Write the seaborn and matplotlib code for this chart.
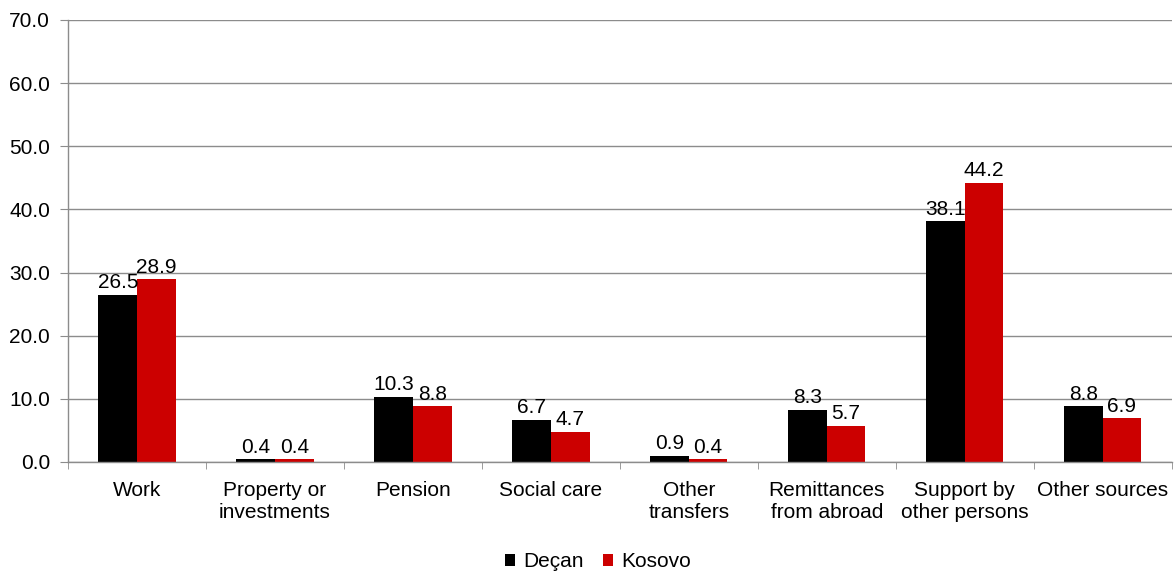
import pandas as pd
import matplotlib.pyplot as plt
import seaborn as sns
import numpy as np

categories = ["Work", "Property or\ninvestments", "Pension", "Social care",
              "Other\ntransfers", "Remittances\nfrom abroad", "Support by\nother persons",
              "Other sources"]
decan = [26.5, 0.4, 10.3, 6.7, 0.9, 8.3, 38.1, 8.8]
kosovo = [28.9, 0.4, 8.8, 4.7, 0.4, 5.7, 44.2, 6.9]
series = ["Deçan", "Kosovo"]
colors = ["#000000", "#CC0000"]

df = pd.DataFrame({
    "cat": categories * 2,
    "val": decan + kosovo,
    "series": [series[0]] * len(categories) + [series[1]] * len(categories),
})

sns.set_style("white")
plt.rcParams['font.family'] = ['Liberation Sans', 'DejaVu Sans']
plt.rcParams['text.color'] = 'black'
plt.rcParams['xtick.color'] = 'black'
plt.rcParams['ytick.color'] = 'black'
fs = 15

fig = plt.figure(figsize=(11.74, 5.71), dpi=100)
ax = fig.add_axes([0.058, 0.191, 0.940, 0.774])

sns.barplot(data=df, x="cat", y="val", hue="series", palette=colors,
            width=0.56, gap=0, ax=ax, legend=True, saturation=1, linewidth=0)

for cont in ax.containers:
    ax.bar_label(cont, fmt="%.1f", padding=2, fontsize=fs)

ax.set_ylim(0, 70)
ax.set_yticks(np.arange(0, 71, 10))
ax.set_yticklabels([f"{v:.1f}" for v in np.arange(0, 71, 10)], fontsize=fs)
ax.yaxis.grid(True, color="#8c8c8c", linewidth=1)
ax.set_axisbelow(True)
ax.set_xlim(-0.5, len(categories) - 0.5)
ax.set_xlabel("")
ax.set_ylabel("")
ax.set_xticks(range(len(categories)))
ax.set_xticklabels(categories, fontsize=fs)
ax.tick_params(axis="x", length=0, pad=14)
ax.set_xticks(np.arange(-0.5, len(categories), 1), minor=True)
ax.tick_params(axis="x", which="minor", length=5, color="#8c8c8c", direction="out", bottom=True)
ax.tick_params(axis="y", length=6, color="#8c8c8c", direction="out", left=True, pad=7)

for s in ["top", "right"]:
    ax.spines[s].set_visible(False)
for s in ["left", "bottom"]:
    ax.spines[s].set_color("#8c8c8c")
    ax.spines[s].set_linewidth(1)

ax.legend(loc="lower center", bbox_to_anchor=(0.48, -0.29), ncol=2, frameon=False,
          fontsize=fs, handlelength=0.5, handleheight=0.5, handletextpad=0.4,
          columnspacing=0.9)

fig.savefig("out.png", dpi=100)
